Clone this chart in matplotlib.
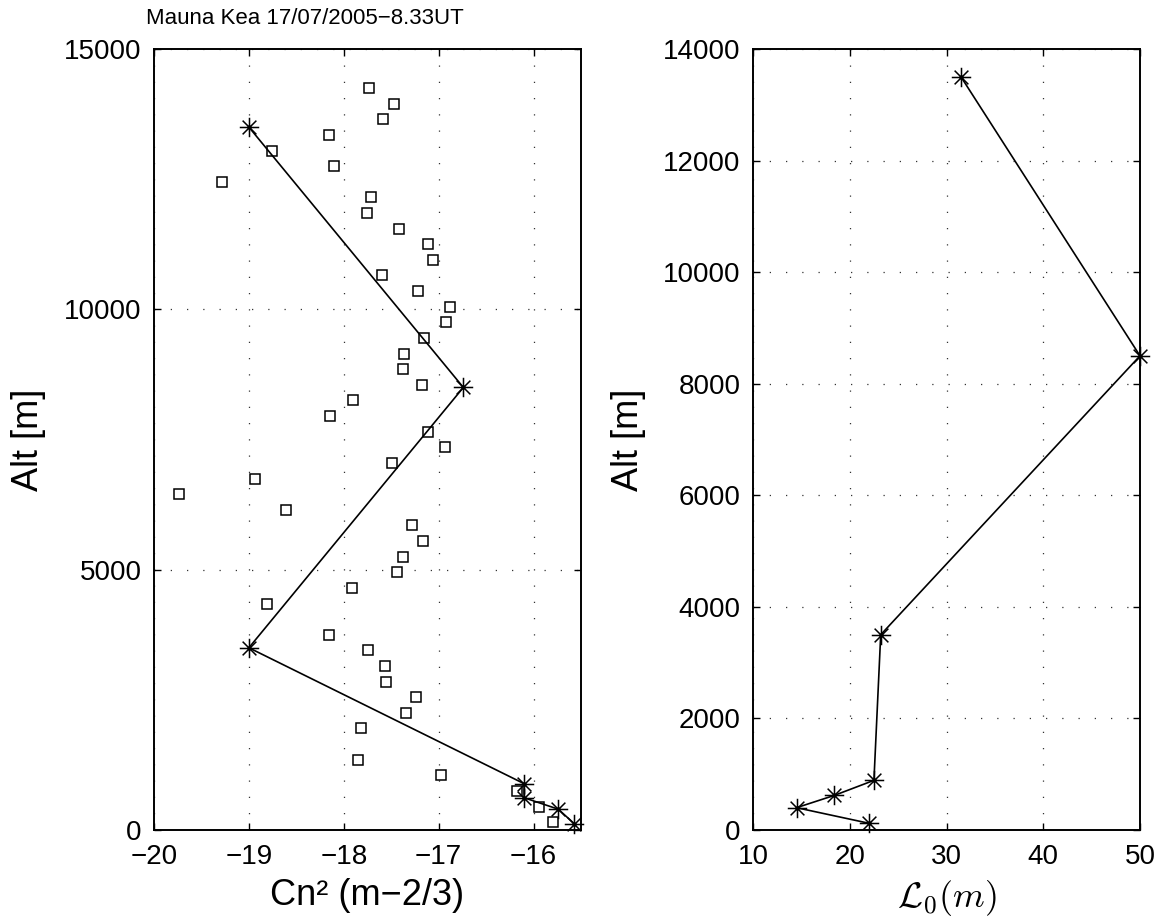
import numpy as np
import matplotlib.pyplot as plt
from matplotlib.path import Path

plt.rcParams['font.family'] = ['Liberation Sans', 'DejaVu Sans']

# measured Cn2 profile (log10), one point every ~300 m
alt_meas = [150, 450, 750, 1050, 1350, 1950, 2250, 2550, 2850, 3150, 3450, 3750,
            4350, 4650, 4950, 5250, 5550, 5850, 6150, 6450, 6750, 7050, 7350, 7650,
            7950, 8250, 8550, 8850, 9150, 9450, 9750, 10050, 10350, 10650, 10950,
            11250, 11550, 11850, 12150, 12450, 12750, 13050, 13350, 13650, 13950, 14250]
cn2_meas = [-15.80, -15.945, -16.17, -16.976, -17.852, -17.82, -17.345, -17.24,
            -17.55, -17.561, -17.74, -18.152, -18.807, -17.916, -17.44, -17.377,
            -17.166, -17.286, -18.606, -19.736, -18.937, -17.493, -16.933, -17.113,
            -18.145, -17.902, -17.173, -17.381, -17.363, -17.155, -16.923, -16.881,
            -17.219, -17.596, -17.064, -17.113, -17.419, -17.754, -17.708, -19.282,
            -18.102, -18.754, -18.152, -17.588, -17.466, -17.733]

# layer model
alt_lay = [120, 400, 620, 890, 3500, 8500, 13500]
cn2_lay = [-15.57, -15.74, -16.10, -16.10, -19.0, -16.74, -19.0]
L0_lay = [22.0, 14.5, 18.4, 22.5, 23.2, 50.0, 31.5]

# matlab style asterisk (+ and x)
ast = Path([(-1, 0), (1, 0), (0, -1), (0, 1), (-0.707, -0.707), (0.707, 0.707),
            (-0.707, 0.707), (0.707, -0.707)],
           [Path.MOVETO, Path.LINETO] * 4)

fig = plt.figure(figsize=(11.65, 9.19), dpi=100)
ax1 = fig.add_axes([154/1165, 89/919, 427/1165, 781/919])
ax2 = fig.add_axes([753/1165, 89/919, 387/1165, 781/919])

def style(ax):
    ax.grid(True, color='0.2', linestyle=(0, (1, 12)), linewidth=0.9)
    ax.tick_params(direction='in', length=5, width=1, labelsize=20, pad=10,
                   top=True, right=True)
    ax.tick_params(axis='y', pad=9)
    for s in ax.spines.values():
        s.set_linewidth(1.4)

ax1.plot(cn2_meas, alt_meas, 's', mfc='white', mec='black', ms=7, mew=1.1, ls='none')
ax1.plot(cn2_lay, alt_lay, '-', color='black', lw=1.2, marker=ast, ms=14, mew=1.1,
         clip_on=False)
ax1.set_xlim(-20, -15.5)
ax1.set_ylim(0, 15000)
ax1.set_xticks([-20, -19, -18, -17, -16])
ax1.set_yticks([0, 5000, 10000, 15000])
style(ax1)
ax1.set_xlabel('Cn² (m−2/3)', fontsize=26)
ax1.set_ylabel('Alt [m]', fontsize=26)
ax1.xaxis.set_label_coords(0.5, -48/781)
ax1.yaxis.set_label_coords(-108/427, 0.5)
ax1.text(151/427, 1 + 30/781, 'Mauna Kea 17/07/2005−8.33UT', fontsize=16,
         ha='center', va='center', transform=ax1.transAxes)

ax2.plot(L0_lay, alt_lay, '-', color='black', lw=1.2, marker=ast, ms=14, mew=1.1,
         clip_on=False)
ax2.set_xlim(10, 50)
ax2.set_ylim(0, 14000)
ax2.set_xticks([10, 20, 30, 40, 50])
ax2.set_yticks(np.arange(0, 14001, 2000))
style(ax2)
ax2.set_xlabel(r'$\mathcal{L}_0(m)$', fontsize=26, math_fontfamily='cm')
ax2.set_ylabel('Alt [m]', fontsize=26)
ax2.xaxis.set_label_coords(0.5, -48/781)
ax2.yaxis.set_label_coords(-107/387, 0.5)

fig.savefig('out.png', dpi=100)
